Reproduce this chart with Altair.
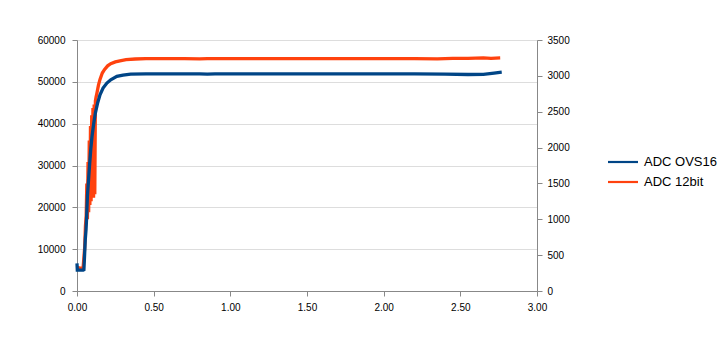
import altair as alt
import pandas as pd

# ADC OVS16 (left axis)
ovs_x = [0.000, 0.002, 0.010, 0.020, 0.030, 0.040, 0.045, 0.050, 0.054, 0.059, 0.062,
         0.068, 0.076, 0.083, 0.090, 0.098, 0.110, 0.120, 0.135, 0.150, 0.170, 0.195,
         0.220, 0.260, 0.300, 0.350, 0.450, 0.600, 0.800, 0.850, 0.900, 1.000, 1.200,
         1.400, 1.600, 1.800, 2.000, 2.200, 2.400, 2.550, 2.650, 2.720, 2.770]
ovs_y = [6600, 5000, 5000, 5000, 5000, 5000, 5100, 9000, 12300, 14700, 17000,
         22700, 27000, 30600, 34000, 37000, 40300, 42600, 45000, 46900, 48500, 49700,
         50500, 51300, 51600, 51850, 51900, 51900, 51900, 51820, 51900, 51900, 51900,
         51900, 51900, 51900, 51900, 51900, 51850, 51750, 51800, 52100, 52300]

# ADC 12bit (right axis)
bit_x = [0.000, 0.020, 0.040, 0.050, 0.055, 0.060, 0.064, 0.068, 0.072, 0.076, 0.080,
         0.084, 0.088, 0.092, 0.096, 0.100, 0.104, 0.108, 0.112, 0.116, 0.120, 0.124,
         0.130, 0.140, 0.150, 0.165, 0.180, 0.200, 0.220, 0.250, 0.280, 0.320, 0.380,
         0.450, 0.550, 0.700, 0.800, 0.850, 0.900, 1.000, 1.200, 1.400, 1.600, 1.800,
         2.000, 2.200, 2.350, 2.450, 2.550, 2.650, 2.700, 2.760]
bit_y = [330, 320, 330, 600, 900, 1050, 1500, 1000, 1800, 1100, 2100,
         1200, 2300, 1250, 2450, 1300, 2550, 1300, 2600, 1350, 2650, 2700,
         2760, 2870, 2950, 3040, 3090, 3140, 3170, 3195, 3210, 3225, 3235,
         3240, 3240, 3240, 3237, 3240, 3240, 3240, 3240, 3240, 3240, 3240,
         3240, 3240, 3238, 3245, 3245, 3250, 3245, 3250]

series = ["ADC OVS16", "ADC 12bit"]
colors = ["#004586", "#ff420e"]

df_ovs = pd.DataFrame({"x": ovs_x, "ovs": ovs_y, "series": series[0], "o": range(len(ovs_x))})
df_bit = pd.DataFrame({"x": bit_x, "bit": bit_y, "series": series[1], "o": range(len(bit_x))})

GRID = "#b3b3b3"

x_enc = alt.X("x:Q", scale=alt.Scale(domain=[0, 3], nice=False),
              axis=alt.Axis(title=None, values=[0, 0.5, 1, 1.5, 2, 2.5, 3], format=".2f",
                            grid=False, tickSize=5, labelPadding=6, labelFlush=False))

color_enc = alt.Color("series:N", scale=alt.Scale(domain=series, range=colors),
                      legend=alt.Legend(title=None, orient="none", legendX=537, legendY=113,
                                        symbolType="M-2,0L2,0", symbolSize=225,
                                        symbolStrokeWidth=2.2, labelFontSize=13,
                                        labelOffset=12, rowPadding=4, labelColor="#000000"))

bit_layer = alt.Chart(df_bit).mark_line(strokeWidth=3.3).encode(
    x=x_enc,
    y=alt.Y("bit:Q", scale=alt.Scale(domain=[0, 3500], nice=False),
            axis=alt.Axis(title=None, orient="right", values=list(range(0, 3501, 500)),
                          format="d", grid=False, tickSize=5, labelPadding=5)),
    color=color_enc,
    order="o:Q",
)

ovs_layer = alt.Chart(df_ovs).mark_line(strokeWidth=3.3).encode(
    x=x_enc,
    y=alt.Y("ovs:Q", scale=alt.Scale(domain=[0, 60000], nice=False),
            axis=alt.Axis(title=None, orient="left", values=list(range(0, 60001, 10000)),
                          format="d", grid=True, tickSize=5, labelPadding=7)),
    color=color_enc,
    order="o:Q",
)

chart = alt.layer(bit_layer, ovs_layer).resolve_scale(y="independent").properties(
    width=460, height=251,
    autosize=alt.AutoSizeParams(type="none"),
    padding={"left": 77, "top": 40, "right": 190, "bottom": 49},
).configure_view(strokeWidth=0).configure_axis(
    gridColor=GRID, domainColor=GRID, tickColor=GRID, labelColor="#000000",
    labelFontSize=12, labelFont="Liberation Sans", gridWidth=1, domainWidth=1,
).configure_legend(labelFont="Liberation Sans").configure(background="#ffffff")

chart.save("out.html", embed_options={"renderer": "svg", "actions": False})
